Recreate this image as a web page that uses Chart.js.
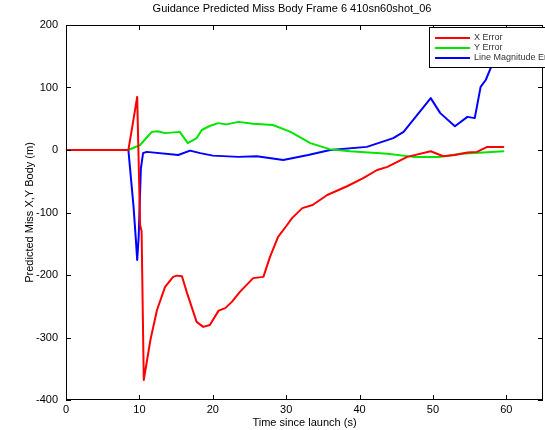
<!DOCTYPE html>
<html>
<head>
<meta charset="utf-8">
<script src="https://cdn.jsdelivr.net/npm/chart.js@4"></script>
<style>
  body { margin: 0; background: #fff; }
  canvas { display: block; }
</style>
</head>
<body>
<canvas id="missChart" width="545" height="430"></canvas>
<script>
const chartTitle = 'Guidance Predicted Miss Body Frame 6 410sn60shot_06';
const seriesNames = ['X Error', 'Y Error', 'Line Magnitude Err'];
const seriesColors = ['#ff0000', '#00e600', '#0000ff'];

const xErrTime = [0, 8.5, 9.0, 9.7, 10.1, 10.3, 10.6, 11.5, 12.4, 13.5, 14.6, 15.1, 15.8, 16.5, 17.8, 18.7, 19.6, 20.8, 21.7, 22.6, 23.7, 25.5, 26.9, 27.8, 28.9, 30.0, 30.8, 32.2, 33.6, 35.6, 38.3, 40.5, 42.4, 43.8, 46.5, 49.7, 51.4, 53.0, 54.7, 56.0, 57.4, 59.6];
const xErrValue = [0, 0, 35, 85, -120, -130, -368, -304, -256, -219, -203, -201, -202, -229, -275, -283, -280, -257, -253, -243, -227, -205, -203, -171, -139, -122, -109, -93, -88, -72, -58, -45, -32, -27, -11, -2, -10, -8, -4, -3, 5, 5];

const yErrTime = [0, 8.5, 10.1, 11.0, 11.7, 12.5, 13.5, 15.5, 16.6, 17.8, 18.5, 19.5, 20.7, 21.9, 23.5, 25.5, 28.2, 30.6, 33.3, 36.0, 38.7, 43.8, 47.3, 51.0, 53.8, 56.9, 59.6];
const yErrValue = [0, 0, 8, 20, 29, 30, 27, 29, 11, 19, 32, 38, 43, 41, 45, 42, 40, 29, 11, 1, -2, -6, -11, -11, -6, -4, -2];

const magTime = [0, 8.5, 9.2, 9.5, 9.7, 9.9, 10.2, 10.5, 11.0, 15.3, 16.9, 18.3, 20.0, 23.5, 26.0, 29.6, 33.0, 36.0, 41.0, 44.6, 46.0, 49.7, 51.0, 53.0, 54.7, 55.7, 56.5, 57.2, 58.5, 59.5];
const magValue = [0, 0, -90, -140, -176, -140, -30, -5, -3, -8, -1, -5, -9, -11, -10, -16, -8, 0, 5, 19, 29, 83, 59, 38, 53, 51, 101, 112, 149, 145];

const xTicks = [0, 10, 20, 30, 40, 50, 60];
const yTicks = [200, 100, 0, -100, -200, -300, -400];

const toPoints = (ts, vs) => ts.map((t, i) => ({ x: t, y: vs[i] }));
const font = 'Liberation Sans, Arial, sans-serif';

// matlab style box with inward ticks, title and legend
const boxPlugin = {
  id: 'boxPlugin',
  afterDraw(chart) {
    const c = chart.ctx;
    const a = chart.chartArea;
    const sx = chart.scales.x, sy = chart.scales.y;
    c.save();
    c.strokeStyle = '#000';
    c.lineWidth = 1;
    c.strokeRect(a.left + 0.5, a.top + 0.5, a.right - a.left - 1, a.bottom - a.top - 1);
    c.beginPath();
    xTicks.forEach(v => {
      const px = Math.round(sx.getPixelForValue(v)) + 0.5;
      c.moveTo(px, a.bottom); c.lineTo(px, a.bottom - 5);
      c.moveTo(px, a.top); c.lineTo(px, a.top + 5);
    });
    yTicks.forEach(v => {
      const py = Math.round(sy.getPixelForValue(v)) + 0.5;
      c.moveTo(a.left, py); c.lineTo(a.left + 5, py);
      c.moveTo(a.right, py); c.lineTo(a.right - 5, py);
    });
    c.stroke();

    c.fillStyle = '#000';
    c.font = '11px ' + font;
    c.textAlign = 'center';
    c.textBaseline = 'middle';
    c.fillText(chartTitle, 292, 9);

    // legend
    const lx = 429, ly = 27;
    c.fillStyle = '#fff';
    c.fillRect(lx, ly, 130, 40);
    c.strokeRect(lx + 0.5, ly + 0.5, 130, 40);
    c.font = '9px ' + font;
    c.textAlign = 'left';
    chart.data.datasets.forEach((ds, i) => {
      const yy = ly + 11 + i * 10;
      c.strokeStyle = ds.borderColor;
      c.lineWidth = 2;
      c.beginPath();
      c.moveTo(lx + 6, yy); c.lineTo(lx + 41, yy);
      c.stroke();
      c.fillStyle = '#333';
      c.fillText(ds.label, lx + 45, yy);
    });
    c.restore();
  }
};

new Chart(document.getElementById('missChart'), {
  type: 'line',
  data: {
    datasets: [
      { label: seriesNames[0], data: toPoints(xErrTime, xErrValue), borderColor: seriesColors[0] },
      { label: seriesNames[1], data: toPoints(yErrTime, yErrValue), borderColor: seriesColors[1] },
      { label: seriesNames[2], data: toPoints(magTime, magValue), borderColor: seriesColors[2] }
    ]
  },
  options: {
    responsive: false,
    animation: false,
    layout: { padding: { top: 25, right: 2, left: 23, bottom: 0 } },
    elements: {
      point: { radius: 0 },
      line: { borderWidth: 2, tension: 0, borderJoinStyle: 'round', borderCapStyle: 'round' }
    },
    plugins: {
      legend: { display: false },
      title: { display: false },
      tooltip: { enabled: false }
    },
    scales: {
      x: {
        type: 'linear',
        min: 0,
        max: 65,
        afterBuildTicks: s => { s.ticks = xTicks.map(v => ({ value: v })); },
        afterFit: s => { s.height = 30; },
        grid: { display: false, drawTicks: false, tickLength: 0 },
        border: { display: false },
        ticks: { color: '#000', font: { family: font, size: 11 }, padding: 3, maxRotation: 0 },
        title: { display: true, text: 'Time since launch (s)', color: '#000', font: { family: font, size: 11 }, padding: { top: 0, bottom: 0 } }
      },
      y: {
        min: -400,
        max: 200,
        afterBuildTicks: s => { s.ticks = yTicks.map(v => ({ value: v })); },
        afterFit: s => { s.width = 43; },
        grid: { display: false, drawTicks: false, tickLength: 0 },
        border: { display: false },
        ticks: { color: '#000', font: { family: font, size: 11 }, padding: 8 },
        title: { display: true, text: 'Predicted Miss X,Y Body (m)', color: '#000', font: { family: font, size: 11 }, padding: 0 }
      }
    }
  },
  plugins: [boxPlugin]
});
</script>
</body>
</html>
